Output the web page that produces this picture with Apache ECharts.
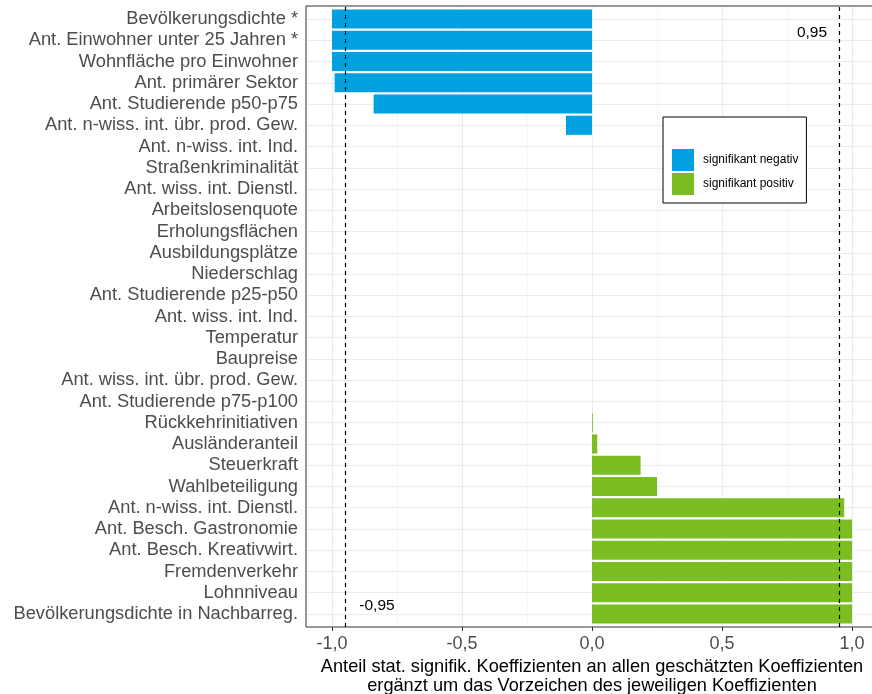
<!DOCTYPE html>
<html>
<head>
<meta charset="utf-8">
<script src="https://cdn.jsdelivr.net/npm/echarts@6/dist/echarts.min.js"></script>
<style>html,body{margin:0;padding:0;background:#fff}#c{width:872px;height:694px}</style>
</head>
<body>
<div id="c"></div>
<script>
const categories = [
  'Bevölkerungsdichte *', 'Ant. Einwohner unter 25 Jahren *', 'Wohnfläche pro Einwohner',
  'Ant. primärer Sektor', 'Ant. Studierende p50-p75', 'Ant. n-wiss. int. übr. prod. Gew.',
  'Ant. n-wiss. int. Ind.', 'Straßenkriminalität', 'Ant. wiss. int. Dienstl.',
  'Arbeitslosenquote', 'Erholungsflächen', 'Ausbildungsplätze', 'Niederschlag',
  'Ant. Studierende p25-p50', 'Ant. wiss. int. Ind.', 'Temperatur', 'Baupreise',
  'Ant. wiss. int. übr. prod. Gew.', 'Ant. Studierende p75-p100', 'Rückkehrinitiativen',
  'Ausländeranteil', 'Steuerkraft', 'Wahlbeteiligung', 'Ant. n-wiss. int. Dienstl.',
  'Ant. Besch. Gastronomie', 'Ant. Besch. Kreativwirt.', 'Fremdenverkehr', 'Lohnniveau',
  'Bevölkerungsdichte in Nachbarreg.'
];
const values = [
  -1, -1, -1, -0.99, -0.84, -0.10,
  0, 0, 0, 0, 0, 0, 0, 0, 0, 0, 0, 0, 0,
  0.003, 0.02, 0.187, 0.25, 0.97, 1, 1, 1, 1, 1
];
const seriesNames = ['signifikant negativ', 'signifikant positiv'];
const xTicks = [-1, -0.5, 0, 0.5, 1];
const xMinorGrid = [-0.75, -0.25, 0.25, 0.75];
const thresholds = [-0.95, 0.95];
const thresholdLabels = ['-0,95', '0,95'];
const labelAnchors = [
  { x: -0.827, cat: 'Bevölkerungsdichte in Nachbarreg.' },
  { x: 0.846, cat: 'Ant. Einwohner unter 25 Jahren *' }
];
const axisTitle = 'Anteil stat. signifik. Koeffizienten an allen geschätzten Koeffizienten\nergänzt um das Vorzeichen des jeweiligen Koeffizienten';

const negVals = values.map(v => v < 0 ? v : null);
const posVals = values.map(v => v > 0 ? v : null);

const FONT = '"Liberation Sans", Arial, sans-serif';
const fmt = v => (Math.round(v * 10) / 10).toFixed(1).replace('.', ',');

const chart = echarts.init(document.getElementById('c'), null, { renderer: 'canvas' });
const noLine = { symbol: ['none', 'none'], silent: true, label: { show: false }, emphasis: { disabled: true }, animation: false };

chart.setOption({
  animation: false,
  textStyle: { fontFamily: FONT },
  grid: [
    { left: 306, top: 8.4, width: 572, height: 616.2, show: false, containLabel: false, outerBoundsMode: 'none' },
    { left: 306, top: 6, width: 572, height: 621, show: true, borderColor: '#333333', borderWidth: 1, backgroundColor: 'transparent', z: 4, outerBoundsMode: 'none' }
  ],
  xAxis: [
    {
      type: 'value', gridIndex: 0, min: -1.1, max: 1.1, offset: 2.4,
      axisLine: { show: false },
      splitLine: { show: false },
      axisTick: { show: true, customValues: xTicks, length: 4, lineStyle: { color: '#333333' } },
      axisLabel: { customValues: xTicks, formatter: fmt, fontSize: 18, color: '#4D4D4D', margin: 8, fontFamily: FONT },
      name: axisTitle, nameLocation: 'middle', nameGap: 24,
      nameTextStyle: { fontSize: 18.2, color: '#000', lineHeight: 19, fontFamily: FONT, verticalAlign: 'top' }
    },
    { type: 'value', gridIndex: 1, min: -1.1, max: 1.1, show: false }
  ],
  yAxis: [
    {
      type: 'category', gridIndex: 0, data: categories, inverse: true,
      axisLine: { show: false },
      axisTick: { show: true, alignWithLabel: true, length: 4, lineStyle: { color: '#333333' } },
      axisLabel: { fontSize: 18.3, color: '#4D4D4D', margin: 8, fontFamily: FONT, interval: 0 },
      splitLine: { show: false }
    },
    { type: 'value', gridIndex: 1, min: 0, max: 1, show: false }
  ],
  legend: {
    data: seriesNames, orient: 'vertical', left: 663, top: 117,
    itemWidth: 22, itemHeight: 22, itemGap: 2, icon: 'rect',
    padding: [32, 8, 8, 9], borderColor: '#000', borderWidth: 1, backgroundColor: '#fff',
    textStyle: { fontSize: 12, color: '#000', fontFamily: FONT, padding: [0, 0, 0, 4] },
    selectedMode: false, z: 10
  },
  series: [
    {
      type: 'line', xAxisIndex: 1, yAxisIndex: 1, data: [], z: 1, silent: true,
      markLine: Object.assign({}, noLine, { z: 1,
        data: xTicks.map(v => ({ xAxis: v, lineStyle: { color: '#EBEBEB', width: 1.1, type: 'solid' } }))
          .concat(xMinorGrid.map(v => ({ xAxis: v, lineStyle: { color: '#F2F2F2', width: 0.6, type: 'solid' } })))
      })
    },
    {
      type: 'line', xAxisIndex: 0, yAxisIndex: 0, data: [], z: 1, silent: true,
      markLine: Object.assign({}, noLine, { z: 1,
        data: categories.map(c => ({ yAxis: c, lineStyle: { color: '#EBEBEB', width: 1.1, type: 'solid' } }))
      })
    },
    {
      name: seriesNames[0], type: 'bar', data: negVals, barGap: '-100%', barCategoryGap: '10%',
      itemStyle: { color: '#00A0E1' }, z: 2, silent: true
    },
    {
      name: seriesNames[1], type: 'bar', data: posVals, barGap: '-100%', barCategoryGap: '10%',
      itemStyle: { color: '#7ABE21' }, z: 2, silent: true,
      markPoint: {
        symbol: 'rect', symbolSize: 1, itemStyle: { color: 'rgba(0,0,0,0)' }, silent: true, z: 6,
        label: { show: true, position: 'inside', offset: [0, -8], color: '#000', fontSize: 15.5, fontFamily: FONT, formatter: p => p.name },
        data: labelAnchors.map((a, i) => ({ name: thresholdLabels[i], coord: [a.x, a.cat] }))
      }
    },
    {
      type: 'line', xAxisIndex: 1, yAxisIndex: 1, data: [], z: 5, silent: true,
      markLine: Object.assign({}, noLine, { z: 5,
        data: thresholds.map(v => ({ xAxis: v, lineStyle: { color: '#000', width: 1.2, type: [4, 4] } }))
      })
    }
  ]
});
</script>
</body>
</html>
